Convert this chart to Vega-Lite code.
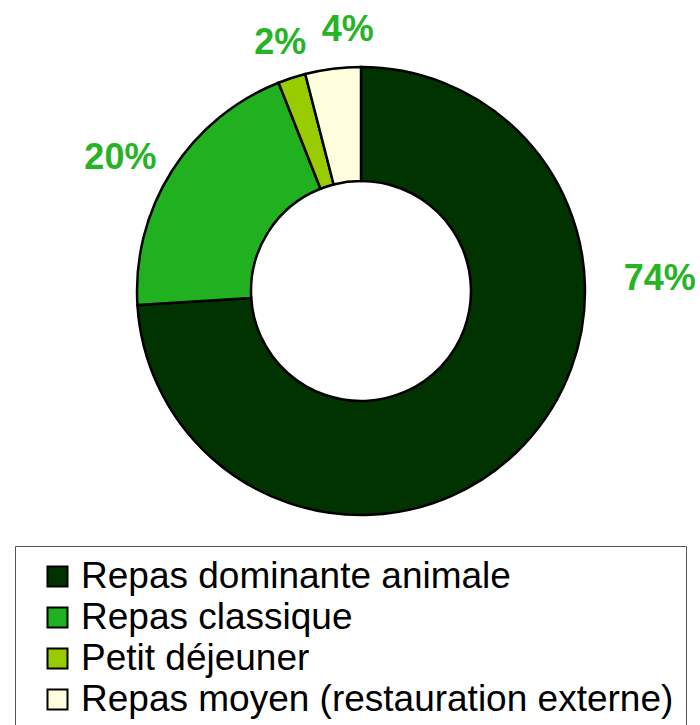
{
 "$schema": "https://vega.github.io/schema/vega-lite/v6.json",
 "width": 678, "height": 582,
 "autosize": {"type": "none"},
 "padding": {"left": 22, "top": 0, "right": 0, "bottom": 143},
 "background": "white",
 "data": {"values": [
  {"cat": "Repas dominante animale", "value": 74, "idx": 1},
  {"cat": "Repas classique", "value": 20, "idx": 2},
  {"cat": "Petit déjeuner", "value": 2, "idx": 3},
  {"cat": "Repas moyen (restauration externe)", "value": 4, "idx": 4}
 ]},
 "layer": [
  {
   "mark": {"type": "arc", "outerRadius": 224, "innerRadius": 110, "stroke": "black", "strokeWidth": 2.5},
   "encoding": {
    "theta": {"field": "value", "type": "quantitative", "stack": true},
    "order": {"field": "idx", "type": "quantitative"},
    "color": {
     "field": "cat", "type": "nominal",
     "scale": {"domain": ["Repas dominante animale", "Repas classique", "Petit déjeuner", "Repas moyen (restauration externe)"],
               "range": ["#003300", "#20B020", "#99CC00", "#FFFFDD"]},
     "legend": {
      "title": null, "orient": "none", "legendX": -7, "legendY": 546, "direction": "vertical",
      "symbolType": "square", "symbolSize": 400, "symbolStrokeColor": "black", "symbolStrokeWidth": 2,
      "labelFontSize": 37, "labelFont": "Liberation Sans", "labelColor": "black", "labelLimit": 0,
      "rowPadding": 3, "padding": 12, "strokeColor": "#555", "fillColor": "white",
      "labelOffset": 5, "symbolOffset": 12
     }
    }
   }
  },
  {
   "transform": [
    {"joinaggregate": [{"op": "sum", "field": "value", "as": "total"}]},
    {"window": [{"op": "sum", "field": "value", "as": "cum"}], "sort": [{"field": "idx"}]},
    {"calculate": "(datum.cum - datum.value / 2) / datum.total * 2 * PI", "as": "mid"},
    {"calculate": "datum.value > 50 ? PI / 2 - 0.04 : (datum.idx == 4 ? datum.mid + 0.075 : datum.mid - (datum.idx == 2 ? 0.06 : 0))", "as": "la"},
    {"calculate": "datum.value > 50 ? 299 : (datum.value > 10 ? 275 : 261)", "as": "lr"},
    {"calculate": "datum.value + '%'", "as": "label"}
   ],
   "mark": {"type": "text", "font": "Liberation Sans", "fontSize": 36, "fontWeight": "bold", "color": "#26B426", "align": "center", "baseline": "middle"},
   "encoding": {
    "theta": {"field": "la", "type": "quantitative", "scale": {"domain": [0, 6.283185], "range": [0, 6.283185]}},
    "radius": {"field": "lr", "type": "quantitative", "scale": null},
    "text": {"field": "label", "type": "nominal"}
   }
  }
 ],
 "resolve": {"scale": {"theta": "independent"}}
}
